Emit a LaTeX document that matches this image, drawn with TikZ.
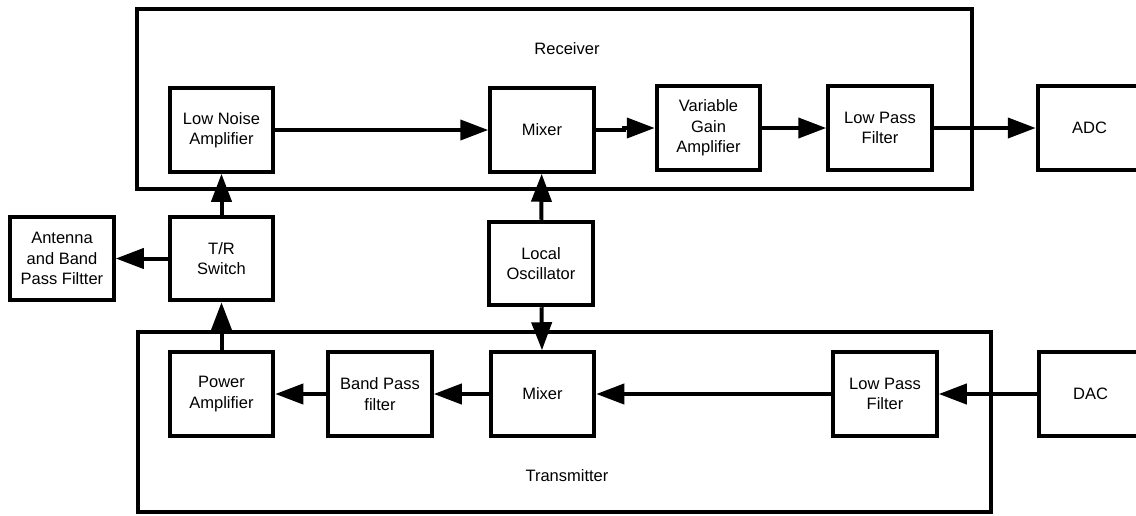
\documentclass[tikz,border=0pt]{standalone}
\usepackage{fontspec}
\setmainfont{Liberation Sans}
\usetikzlibrary{arrows.meta,positioning}

\begin{document}
\begin{tikzpicture}[x=1pt, y=-1pt,
        block/.style={draw, line width=4pt, minimum width=103.5pt, minimum height=83.5pt,
            inner sep=0pt, align=center, font=\fontsize{16.5}{20.5}\selectfont},
        frame/.style={draw, line width=4pt},
        title/.style={font=\fontsize{16.5}{20.5}\selectfont},
        link/.style={line width=4pt, -{Triangle[length=28pt,width=20pt]}}]
        \useasboundingbox (0,0) rectangle (1136,515);

        \draw[frame] (137,9) rectangle (972,189);
        \draw[frame] (138,332) rectangle (991,512);
        \node[title] (rxname) at (567,49) {Receiver};
        \node[title] (txname) at (567,476) {Transmitter};

        \node[block] (lna) at (221.5,130) {Low Noise\\Amplifier};
        \node[block, right=213pt of lna] (rxmix) {Mixer};
        \node[block, right=59pt of rxmix, yshift=2pt] (vga) {Variable\\Gain\\Amplifier};
        \node[block, right=64pt of vga] (rxlpf) {Low Pass\\Filter};
        \node[block, right=102pt of rxlpf] (adc) {ADC};

        \node[block] (trsw) at (221.5,258.5) {T/R\\Switch};
        \node[block, left=52pt of trsw] (ant) {Antenna\\and Band\\Pass Filtter};
        \node[block] (lo) at (541,263.5) {Local\\Oscillator};

        \node[block] (pa) at (221.5,394) {Power\\Amplifier};
        \node[block, right=51pt of pa] (bpf) {Band Pass\\filter};
        \node[block, right=55pt of bpf] (txmix) {Mixer};
        \node[block, right=235pt of txmix] (txlpf) {Low Pass\\Filter};
        \node[block, right=98pt of txlpf] (dac) {DAC};

        \draw[link] (lna) -- (rxmix);
        \draw[link] (rxmix.east) -- ++(28,0) |- (vga.west);
        \draw[link] (vga) -- (rxlpf);
        \draw[link] (rxlpf) -- (adc);
        \draw[link] (trsw) -- (lna);
        \draw[link] (trsw) -- (ant);
        \draw[link] (lo) -- (rxmix);
        \draw[link] (lo) -- (txmix);
        \draw[link] (pa) -- (trsw);
        \draw[link] (dac) -- (txlpf);
        \draw[link] (txlpf) -- (txmix);
        \draw[link] (txmix) -- (bpf);
        \draw[link] (bpf) -- (pa);

    \end{tikzpicture}
\end{document}
